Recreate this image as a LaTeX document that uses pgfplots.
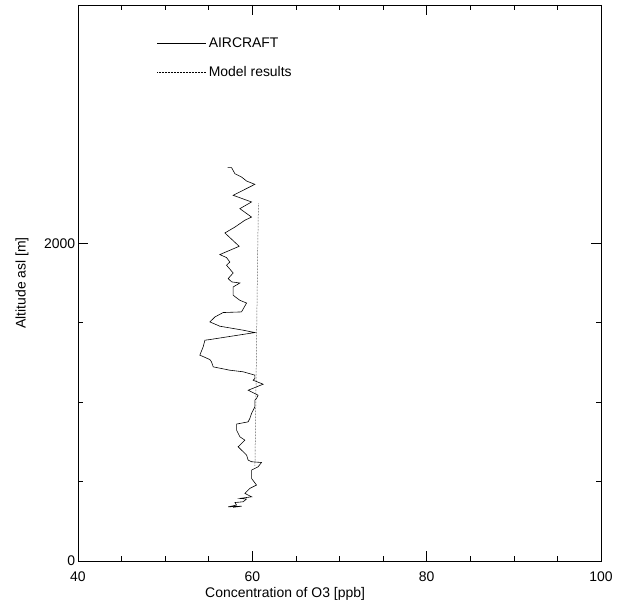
\documentclass[border=0pt]{standalone}
\usepackage{pgfplots}
\pgfplotsset{compat=1.18}
\usepackage{fontspec}
\setmainfont{Liberation Sans}
\begin{document}
\fontsize{14}{16}\selectfont
\begin{tikzpicture}
\begin{axis}[
  scale only axis,
  width=523bp, height=556bp,
  xmin=40, xmax=100, ymin=0, ymax=3500,
  xtick={40,60,80,100}, minor x tick num=3,
  ytick={0,2000}, minor y tick num=3,
  tick align=inside,
  major tick length=10bp, minor tick length=5bp,
  axis line style={line width=0.6pt},
  every tick/.style={black, line width=0.6pt},
  /pgf/number format/assume math mode=true,
  /pgf/number format/1000 sep={},
  tick label style={font=\fontsize{14}{16}\selectfont},
  xticklabel style={yshift=-6bp},
  yticklabel style={xshift=2bp},
  xlabel={Concentration of O3 [ppb]},
  ylabel={Altitude asl [m]},
  xlabel style={at={(axis description cs:0.396,0)}, anchor=north, yshift=-22bp, font=\fontsize{14}{16}\selectfont},
  ylabel style={yshift=6bp, font=\fontsize{14}{16}\selectfont},
  legend style={draw=none, fill=none, at={(rel axis cs:0.151,0.945)}, anchor=north west, row sep=13bp, font=\fontsize{14}{16}\selectfont, inner sep=0pt},
  legend cell align=left,
  legend image code/.code={\draw[#1] (0bp,0bp) -- (36bp,0bp); \path (0bp,0bp) -- (49bp,0bp);},
]
\addplot[black, line width=0.6pt] coordinates {
(57.16,2476) (57.62,2476) (58.00,2438) (58.76,2417) (59.34,2392) (60.29,2371)
(57.80,2302) (59.91,2260) (58.57,2218) (59.91,2165) (59.14,2145) (58.00,2102)
(56.85,2065) (58.49,1981) (56.27,1929) (57.04,1910) (57.42,1882) (57.04,1862)
(57.80,1813) (57.23,1778) (57.62,1757) (58.57,1750) (57.80,1725) (57.80,1673)
(58.57,1641) (59.34,1624) (58.76,1568) (56.65,1564) (55.70,1536) (55.13,1505)
(56.27,1478) (58.95,1453) (60.29,1438) (55.13,1394) (54.56,1390) (54.36,1348)
(53.98,1296) (55.13,1268) (55.32,1253) (55.51,1222) (57.42,1201) (58.95,1191)
(60.29,1170) (60.29,1149) (60.09,1138) (61.24,1113) (59.52,1075) (60.66,1044)
(60.48,1023) (60.29,1013) (60.29,970) (59.91,929) (59.71,897) (59.52,876)
(58.19,862) (58.19,824) (58.57,782) (59.14,761) (58.76,740) (58.37,719)
(58.76,698) (59.34,667) (59.52,635) (59.91,625) (61.05,620) (60.66,593)
(59.91,572) (59.91,520) (60.48,478) (59.71,457) (59.14,426) (59.91,404)
(58.57,394) (59.33,390) (58.95,373) (58.00,368) (58.19,352) (57.23,341)
(58.76,345) (57.8,338)
};
\addlegendentry{AIRCRAFT}
\addplot[black, line width=0.5pt, densely dotted] coordinates {
(60.3,600) (60.4,1000) (60.5,1450) (60.6,1900) (60.7,2250)
};
\addlegendentry{Model results}
\end{axis}
\pgfresetboundingbox
\path ([shift={(-78bp,-42bp)}]current axis.south west) rectangle ([shift={(19bp,5bp)}]current axis.north east);
\end{tikzpicture}
\end{document}
